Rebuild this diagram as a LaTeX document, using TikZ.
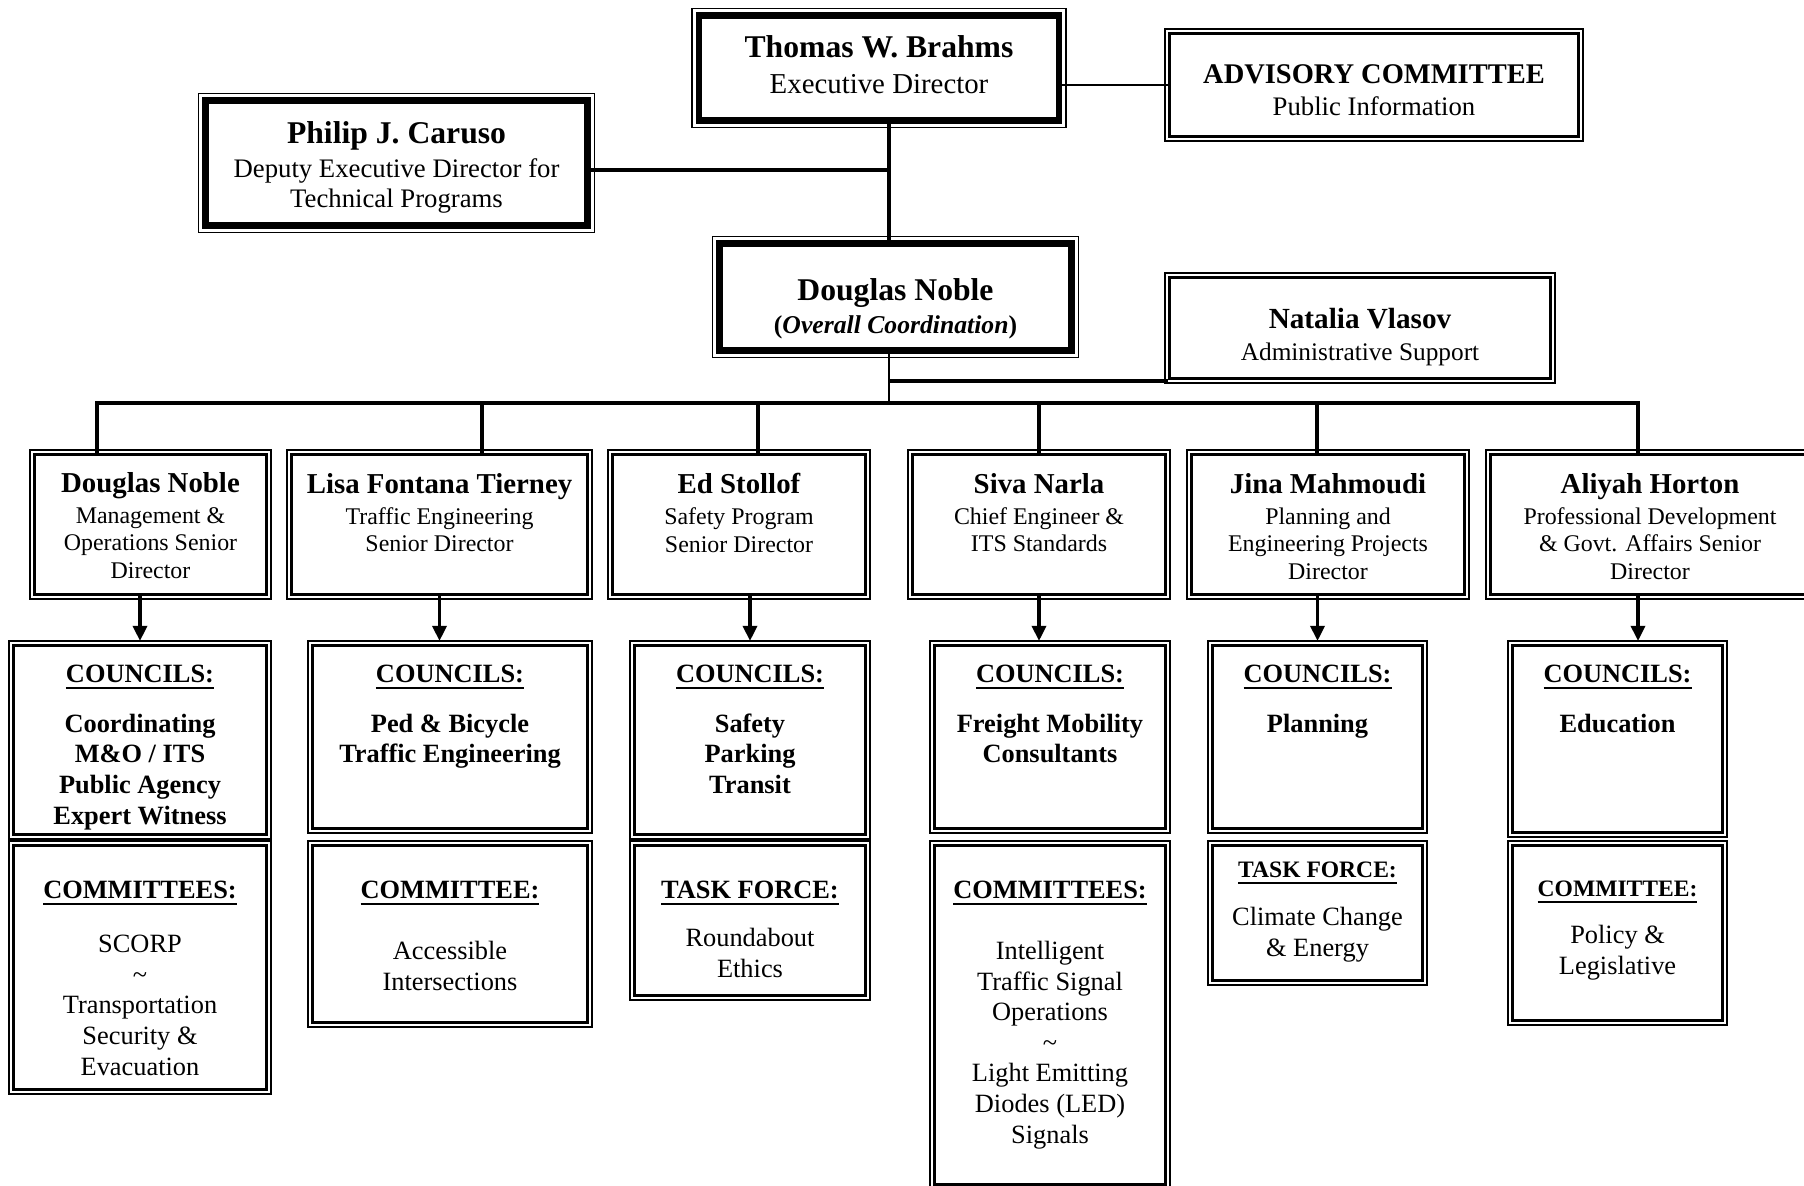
\documentclass[tikz,border=0pt]{standalone}
\usepackage{fontspec}
\setmainfont{Liberation Serif}
\usetikzlibrary{positioning,fit,arrows.meta}

\newcommand{\bossname}{\fontsize{9}{10}\selectfont\bfseries}
\newcommand{\bossrole}{\fontsize{8.2}{8.6}\selectfont}
\newcommand{\dirname}{\fontsize{8.2}{9.4}\selectfont\bfseries}
\newcommand{\dirrole}{\fontsize{6.8}{7.85}\selectfont}
\newcommand{\grouptext}{\fontsize{7.5}{8.7}\selectfont}
\newcommand{\grouphead}[1]{{\bfseries\underline{#1}}}
\newcommand{\smallhead}[1]{{\fontsize{6.7}{8}\selectfont\bfseries\underline{#1}}}

\begin{document}
\begin{tikzpicture}[x=0.01cm, y=-0.01cm,
        box/.style = {draw, line width=0.85pt, inner sep=0pt, align=center},
        execbox/.style = {box, line width=1.9pt},
        frame/.style = {draw, line width=0.45pt, inner sep=1pt, outer sep=0pt},
        txt/.style = {inner sep=0pt, align=center},
        conn/.style = {line width=0.95pt},
        link/.style = {line width=0.5pt},
        arr/.style = {conn, -{Triangle[width=4pt,length=4.3pt]}}]

    \useasboundingbox (0,0) rectangle (1804,1186);

    % Top level
    \node[execbox, minimum width=3.60cm, minimum height=1.05cm] (thomas) at (879,68) {};
    \node[box, minimum width=4.08cm, minimum height=1.02cm] (advisory) at (1374,85) {};
    \node[execbox, minimum width=3.82cm, minimum height=1.25cm] (philip) at (396.5,163) {};
    \node[execbox, minimum width=3.52cm, minimum height=1.07cm] (dntop) at (895.5,297) {};
    \node[box, minimum width=3.80cm, minimum height=1.00cm] (natalia) at (1360,328) {};

    \node[txt, font=\bossrole, yshift=1pt] (thomas-t) at (thomas)
        {{\bossname Thomas W. Brahms}\\[1.5pt] Executive Director};
    \node[txt, font=\fontsize{7.6}{9.2}\selectfont, yshift=-1.5pt] (advisory-t) at (advisory)
        {{\fontsize{8.1}{9}\selectfont\bfseries ADVISORY COMMITTEE}\\ Public Information};
    \node[txt, font=\fontsize{7.6}{8.6}\selectfont, yshift=-1.3pt] (philip-t) at (philip)
        {{\bossname Philip J. Caruso}\\[0.9pt] Deputy Executive Director for\\ Technical Programs};
    \node[txt, font=\fontsize{7.3}{9.2}\selectfont, yshift=-3.3pt] (dntop-t) at (dntop)
        {{\bossname Douglas Noble}\\ \textbf{(\textit{Overall Coordination})}};
    \node[txt, font=\fontsize{7.2}{9.2}\selectfont, yshift=-2.5pt] (natalia-t) at (natalia)
        {{\fontsize{8.3}{9}\selectfont\bfseries Natalia Vlasov}\\ Administrative Support};

    % Directors
    \node[box, minimum width=2.31cm, minimum height=1.39cm] (dn1) at (150.5,524.5) {};
    \node[box, minimum width=2.95cm, minimum height=1.39cm] (lisa) at (439.5,524.5) {};
    \node[box, minimum width=2.52cm, minimum height=1.39cm] (ed) at (739,524.5) {};
    \node[box, minimum width=2.52cm, minimum height=1.39cm] (siva) at (1039,524.5) {};
    \node[box, minimum width=2.72cm, minimum height=1.39cm] (jina) at (1328,524.5) {};
    \node[box, minimum width=3.18cm, minimum height=1.39cm] (aliyah) at (1650,524.5) {};

    \node[txt, font=\dirrole, below=0.18cm of dn1.north] (dn1-t)
        {{\dirname Douglas Noble}\\[1pt] Management \&\\ Operations Senior\\ Director};
    \node[txt, font=\dirrole, below=0.19cm of lisa.north] (lisa-t)
        {{\dirname Lisa Fontana Tierney}\\[1pt] Traffic Engineering\\ Senior Director};
    \node[txt, font=\dirrole, below=0.19cm of ed.north] (ed-t)
        {{\dirname Ed Stollof}\\[1pt] Safety Program\\ Senior Director};
    \node[txt, font=\dirrole, below=0.19cm of siva.north] (siva-t)
        {{\dirname Siva Narla}\\[1pt] Chief Engineer \&\\ ITS Standards};
    \node[txt, font=\dirrole, below=0.19cm of jina.north] (jina-t)
        {{\dirname Jina Mahmoudi}\\[1pt] Planning and\\ Engineering Projects\\ Director};
    \node[txt, font=\dirrole, below=0.19cm of aliyah.north] (aliyah-t)
        {{\dirname Aliyah Horton}\\[1pt] Professional Development\\ \& Govt. Affairs Senior\\ Director};

    % Councils
    \node[box, minimum width=2.52cm, minimum height=1.88cm] (c1) at (140,740) {};
    \node[box, minimum width=2.74cm, minimum height=1.82cm] (c2) at (450,737) {};
    \node[box, minimum width=2.30cm, minimum height=1.88cm] (c3) at (750,740) {};
    \node[box, minimum width=2.30cm, minimum height=1.82cm] (c4) at (1050,737) {};
    \node[box, minimum width=2.09cm, minimum height=1.82cm] (c5) at (1317.5,737) {};
    \node[box, minimum width=2.09cm, minimum height=1.86cm] (c6) at (1617.5,739) {};

    \node[txt, font=\grouptext\bfseries, below=0.2cm of c1.north] (c1-t)
        {\underline{COUNCILS:}\\[5.4pt] Coordinating\\ M\&O / ITS\\ Public Agency\\ Expert Witness};
    \node[txt, font=\grouptext\bfseries, below=0.2cm of c2.north] (c2-t)
        {\underline{COUNCILS:}\\[5.4pt] Ped \& Bicycle\\ Traffic Engineering};
    \node[txt, font=\grouptext\bfseries, below=0.2cm of c3.north] (c3-t)
        {\underline{COUNCILS:}\\[5.4pt] Safety\\ Parking\\ Transit};
    \node[txt, font=\grouptext\bfseries, below=0.2cm of c4.north] (c4-t)
        {\underline{COUNCILS:}\\[5.4pt] Freight Mobility\\ Consultants};
    \node[txt, font=\grouptext\bfseries, below=0.2cm of c5.north] (c5-t)
        {\underline{COUNCILS:}\\[5.4pt] Planning};
    \node[txt, font=\grouptext\bfseries, below=0.2cm of c6.north] (c6-t)
        {\underline{COUNCILS:}\\[5.4pt] Education};

    % Committees and task forces
    \node[box, minimum width=2.52cm, minimum height=2.43cm] (l1) at (140,967.5) {};
    \node[box, minimum width=2.74cm, minimum height=1.76cm] (l2) at (450,934) {};
    \node[box, minimum width=2.30cm, minimum height=1.49cm] (l3) at (750,920.5) {};
    \node[box, minimum width=2.30cm, minimum height=3.38cm] (l4) at (1050,1015) {};
    \node[box, minimum width=2.09cm, minimum height=1.34cm] (l5) at (1317.5,913) {};
    \node[box, minimum width=2.09cm, minimum height=1.74cm] (l6) at (1617.5,933) {};

    \node[txt, font=\grouptext, below=0.36cm of l1.north] (l1-t)
        {\grouphead{COMMITTEES:}\\[6.7pt] SCORP\\ \textasciitilde\\ Transportation\\ Security \&\\ Evacuation};
    \node[txt, font=\grouptext, below=0.36cm of l2.north] (l2-t)
        {\grouphead{COMMITTEE:}\\[8.6pt] Accessible\\ Intersections};
    \node[txt, font=\grouptext, below=0.36cm of l3.north] (l3-t)
        {\grouphead{TASK FORCE:}\\[5pt] Roundabout\\ Ethics};
    \node[txt, font=\grouptext, below=0.36cm of l4.north] (l4-t)
        {\grouphead{COMMITTEES:}\\[8.6pt] Intelligent\\ Traffic Signal\\ Operations\\ \textasciitilde\\ Light Emitting\\ Diodes (LED)\\ Signals};
    \node[txt, font=\grouptext, below=0.17cm of l5.north] (l5-t)
        {\smallhead{TASK FORCE:}\\[5pt] Climate Change\\ \& Energy};
    \node[txt, font=\grouptext, below=0.36cm of l6.north] (l6-t)
        {\smallhead{COMMITTEE:}\\[4.7pt] Policy \&\\ Legislative};

    % Outer frames
    \foreach \n in {advisory,natalia,dn1,lisa,ed,siva,jina,aliyah,c1,c2,c3,c4,c5,c6,l1,l2,l3,l4,l5,l6}
        \node[frame, fit=(\n)] (\n-f) {};
    \foreach \n in {thomas,philip,dntop}
        \node[frame, fit=(\n)] (\n-f) {};

    % Connectors
    \coordinate (pj) at (889,170);
    \coordinate (nat) at (889,381);
    \coordinate (hub) at (889,403);
    \coordinate (b1) at (97,403);
    \coordinate (b2) at (482,403);
    \coordinate (b3) at (758,403);
    \coordinate (b4) at (1039,403);
    \coordinate (b5) at (1317,403);
    \coordinate (b6) at (1638,403);

    \draw[link] (advisory.west -| thomas.east) -- (advisory.west);
    \draw[conn] (thomas.south -| pj) -- (dntop.north -| pj);
    \draw[conn] (pj -| philip.east) -- (pj);
    \draw[link] (dntop.south -| hub) -- (hub);
    \draw[conn] (nat) -- (nat -| natalia.west);

    \draw[line width=1.1pt] (b1 |- dn1.north) -- (b1) -- (b6) -- (b6 |- aliyah.north);
    \foreach \b/\d in {b2/lisa,b3/ed,b4/siva,b5/jina}
        \draw[conn] (\b) -- (\b |- \d.north);

    \draw[arr] (c1.north |- dn1.south) -- (c1-f.north);
    \draw[arr] (lisa.south) -- (lisa.south |- c2-f.north);
    \draw[arr] (c3.north |- ed.south) -- (c3-f.north);
    \draw[arr] (siva.south) -- (siva.south |- c4-f.north);
    \draw[arr] (c5.north |- jina.south) -- (c5-f.north);
    \draw[arr] (b6 |- aliyah.south) -- (b6 |- c6-f.north);

\end{tikzpicture}
\end{document}
